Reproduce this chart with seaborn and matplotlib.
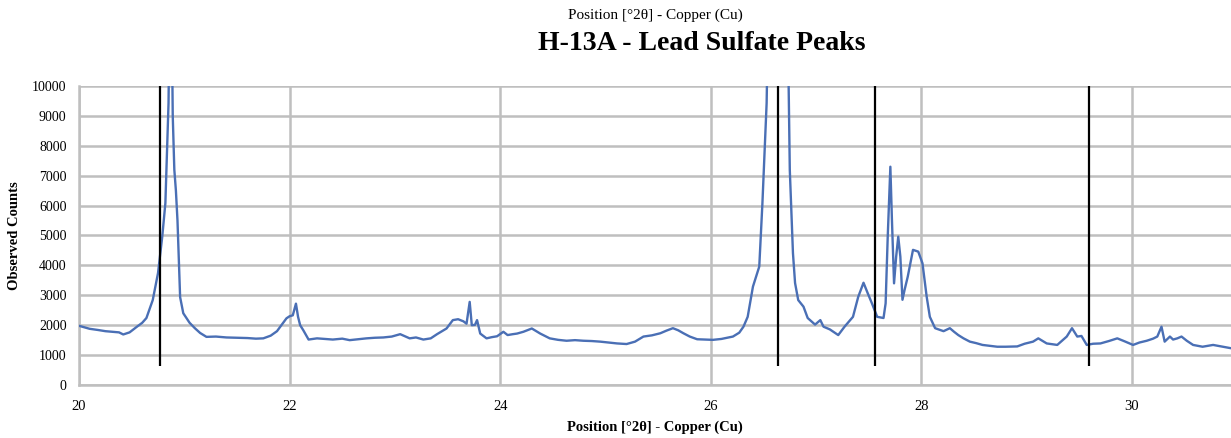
import matplotlib
matplotlib.use("Agg")
import matplotlib.pyplot as plt
import seaborn as sns
import pandas as pd

# ---- data ----
two_theta = [20.00, 20.05, 20.10, 20.18, 20.25, 20.32, 20.38, 20.42, 20.48, 20.55, 20.60, 20.64,
             20.70, 20.75, 20.79, 20.82, 20.85, 20.87, 20.89, 20.905, 20.92, 20.935, 20.96, 20.99,
             21.05, 21.10, 21.15, 21.21, 21.30, 21.40, 21.50, 21.60, 21.68, 21.75, 21.82, 21.88,
             21.97, 22.00, 22.03, 22.06, 22.08, 22.10, 22.13, 22.18, 22.26, 22.34, 22.41, 22.50,
             22.57, 22.65, 22.73, 22.81, 22.89, 22.97, 23.05, 23.14, 23.20, 23.27, 23.34, 23.40,
             23.49, 23.55, 23.60, 23.65, 23.68, 23.71, 23.73, 23.76, 23.78, 23.81, 23.87, 23.92,
             23.97, 24.03, 24.07, 24.12, 24.16, 24.22, 24.30, 24.38, 24.47, 24.55, 24.63, 24.71,
             24.79, 24.87, 24.95, 25.03, 25.11, 25.20, 25.28, 25.36, 25.44, 25.52, 25.58, 25.64,
             25.69, 25.74, 25.80, 25.87, 25.94, 26.02, 26.10, 26.21, 26.27, 26.31, 26.35, 26.40,
             26.46, 26.49, 26.53, 26.58, 26.64, 26.70, 26.75, 26.78, 26.80, 26.83, 26.88, 26.92,
             26.99, 27.04, 27.07, 27.13, 27.21, 27.27, 27.35, 27.40, 27.45, 27.49, 27.53, 27.58,
             27.64, 27.66, 27.68, 27.705, 27.72, 27.74, 27.76, 27.78, 27.80, 27.82, 27.84, 27.87,
             27.92, 27.97, 28.01, 28.05, 28.08, 28.13, 28.21, 28.27, 28.31, 28.35, 28.40, 28.46,
             28.52, 28.58, 28.65, 28.72, 28.80, 28.91, 28.98, 29.06, 29.11, 29.19, 29.29, 29.38,
             29.43, 29.48, 29.52, 29.57, 29.63, 29.70, 29.78, 29.86, 29.93, 30.01, 30.07, 30.14,
             30.20, 30.24, 30.28, 30.31, 30.36, 30.39, 30.43, 30.47, 30.52, 30.58, 30.67, 30.77,
             30.85, 30.94]
counts = [1980, 1930, 1880, 1840, 1800, 1780, 1760, 1690, 1760, 1950, 2080, 2240,
          2840, 3740, 4950, 6080, 9430, 16000, 9000, 7200, 6500, 5500, 2940, 2400,
          2080, 1900, 1740, 1610, 1620, 1590, 1580, 1570, 1550, 1560, 1650, 1800,
          2230, 2300, 2330, 2720, 2280, 2000, 1830, 1520, 1560, 1540, 1520, 1550,
          1500, 1530, 1560, 1580, 1590, 1620, 1700, 1560, 1590, 1520, 1560, 1700,
          1890, 2170, 2200, 2130, 2050, 2780, 2000, 2010, 2170, 1720, 1560, 1600,
          1630, 1780, 1670, 1700, 1720, 1780, 1890, 1720, 1560, 1510, 1480, 1500,
          1480, 1470, 1450, 1420, 1390, 1370, 1450, 1620, 1660, 1730, 1820, 1900,
          1830, 1730, 1620, 1530, 1520, 1510, 1540, 1620, 1750, 1950, 2280, 3290,
          3960, 6080, 9430, 20000, 35000, 20000, 7190, 4410, 3410, 2840, 2620, 2240,
          2020, 2170, 1950, 1860, 1670, 1950, 2280, 2950, 3420, 3070, 2730, 2280,
          2240, 2730, 4960, 7300, 5520, 3400, 4290, 4960, 4290, 2850, 3180, 3620,
          4520, 4460, 4070, 2950, 2280, 1900, 1800, 1900, 1780, 1670, 1560, 1450,
          1400, 1340, 1310, 1280, 1280, 1290, 1380, 1450, 1560, 1390, 1340, 1620,
          1900, 1620, 1640, 1340, 1380, 1390, 1470, 1560, 1460, 1340, 1420, 1480,
          1550, 1620, 1950, 1450, 1620, 1520, 1560, 1620, 1480, 1340, 1280, 1340,
          1290, 1230]
peak_positions = [20.77, 26.64, 27.56, 29.59]
peak_line_bottom = 640

df = pd.DataFrame({"two_theta": two_theta, "counts": counts})

sns.set_theme(style="whitegrid")
plt.rcParams["font.family"] = ["Liberation Serif", "DejaVu Serif"]

fig = plt.figure(figsize=(12.31, 4.38), dpi=100)
ax = fig.add_axes([0.0642, 0.121, 0.9358, 0.6827])

sns.lineplot(data=df, x="two_theta", y="counts", ax=ax, color="#4a6fb5",
             linewidth=1.7, zorder=3)
ax.vlines(peak_positions, peak_line_bottom, 10000, colors="black", linewidth=1.6, zorder=4)

ax.set_xlim(20, 30.94)
ax.set_ylim(0, 10000)
ax.set_xticks([20, 22, 24, 26, 28, 30])
ax.set_yticks(range(0, 10001, 1000))
ax.grid(True, color="#bfbfbf", linewidth=1.8)
ax.set_axisbelow(True)
for side in ["top", "right"]:
    ax.spines[side].set_visible(False)
for side in ["left", "bottom"]:
    ax.spines[side].set_color("#bfbfbf")
    ax.spines[side].set_linewidth(1.8)
ax.tick_params(axis="y", length=0, labelsize=10, colors="black", pad=9)
ax.tick_params(axis="x", length=0, labelsize=10.5, colors="black", pad=11)

ax.set_xlabel("Position [°2θ] - Copper (Cu)", fontsize=10.5, fontweight="bold",
              labelpad=5, color="black")
ax.set_ylabel("Observed Counts", fontsize=10.5, fontweight="bold", labelpad=8, color="black")

fig.text(0.532, 0.966, "Position [°2θ] - Copper (Cu)", ha="center", va="center",
         fontsize=11, color="black")
fig.text(0.570, 0.901, "H-13A - Lead Sulfate Peaks", ha="center", va="center",
         fontsize=20, fontweight="bold", color="black")

fig.savefig("out.png", dpi=100)
